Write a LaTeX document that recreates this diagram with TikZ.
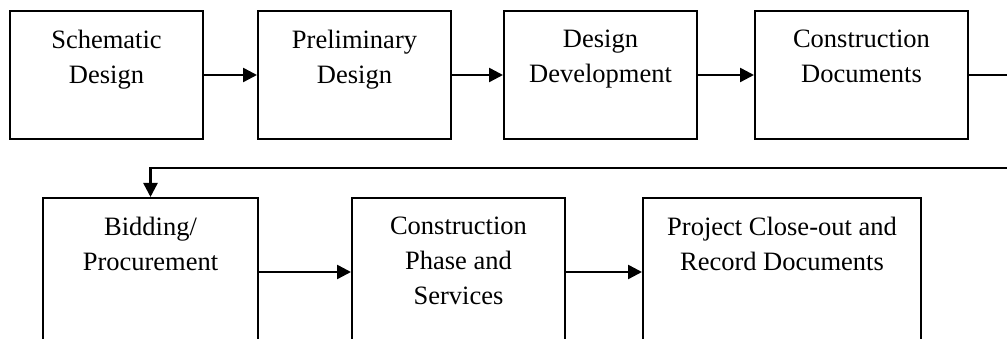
\documentclass[tikz,border=0pt]{standalone}
\usepackage{fontspec}
\setmainfont{Liberation Serif}
\usetikzlibrary{arrows.meta}
\begin{document}
\begin{tikzpicture}[x=1pt,y=1pt,
  stagebox/.style={draw=black,line width=2pt,rectangle,inner sep=0pt},
  stagetext/.style={anchor=north,align=center,inner sep=0pt,font=\fontsize{26.5}{35}\selectfont},
  flow/.style={line width=2.5pt,-{Triangle[length=14pt,width=14pt]}},
  plainflow/.style={line width=2.5pt}]
\clip (0,0) rectangle (1007,339);
\fill[white] (0,0) rectangle (1007,339);
% top row
\node[stagebox,minimum width=193pt,minimum height=128pt] (b1) at (106.5,264) {};
\node[stagebox,minimum width=193pt,minimum height=128pt] (b2) at (354.5,264) {};
\node[stagebox,minimum width=193pt,minimum height=128pt] (b3) at (600.5,264) {};
\node[stagebox,minimum width=213pt,minimum height=128pt] (b4) at (861.5,264) {};
% bottom row
\node[stagebox,minimum width=215pt,minimum height=148pt] (b5) at (150.5,67) {};
\node[stagebox,minimum width=213pt,minimum height=148pt] (b6) at (458.5,67) {};
\node[stagebox,minimum width=278pt,minimum height=148pt] (b7) at (782,67) {};
% texts
\node[stagetext,yshift=-20pt] (t1) at (b1.north) {Schematic\\Design};
\node[stagetext,yshift=-20pt] (t2) at (b2.north) {Preliminary\\Design};
\node[stagetext,yshift=-20pt] (t3) at (b3.north) {Design\\Development};
\node[stagetext,yshift=-20pt] (t4) at (b4.north) {Construction\\Documents};
\node[stagetext,yshift=-20pt] (t5) at (b5.north) {Bidding/\\Procurement};
\node[stagetext,yshift=-20pt] (t6) at (b6.north) {Construction\\Phase and\\Services};
\node[stagetext,yshift=-20pt] (t7) at (b7.north) {Project Close-out and\\Record Documents};
% connectors
\draw[flow] (b1.east) -- (b2.west);
\draw[flow] (b2.east) -- (b3.west);
\draw[flow] (b3.east) -- (b4.west);
\coordinate (turn) at (1020,171);
\draw[flow] (b4.east) -| (turn) -| (b5.north);
\draw[flow] (b5.east) -- (b6.west);
\draw[flow] (b6.east) -- (b7.west);
\end{tikzpicture}
\end{document}
